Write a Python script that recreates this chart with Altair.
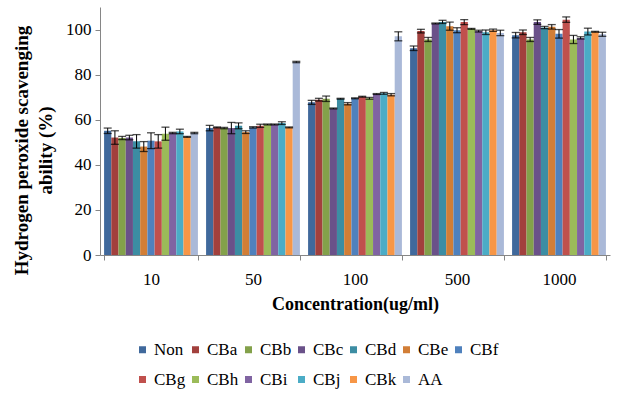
import altair as alt
import pandas as pd

series = ["Non", "CBa", "CBb", "CBc", "CBd", "CBe", "CBf",
          "CBg", "CBh", "CBi", "CBj", "CBk", "AA"]
colors = ["#40699C", "#A2403D", "#83A14A", "#6A5189", "#3C8DA3", "#D27E36", "#4F81BD",
          "#C0504D", "#9BBB59", "#8064A2", "#4BACC6", "#F79646", "#AAB9D8"]
concentrations = ["10", "50", "100", "500", "1000"]

values_10 = [55.1, 52.1, 51.9, 52.1, 50.4, 48.1, 50.7, 50.4, 53.8, 54.1, 54.8, 52.4, 54.1]
values_50 = [56.3, 56.6, 56.3, 56.3, 57.3, 54.5, 56.6, 57.3, 57.9, 57.9, 58.5, 56.6, 85.6]
values_100 = [67.7, 68.9, 69.3, 65.0, 69.3, 67.1, 69.5, 70.2, 69.5, 71.4, 71.7, 71.1, 97.0]
values_500 = [91.7, 99.3, 95.6, 102.7, 103.4, 101.5, 99.7, 103.3, 100.3, 99.3, 98.8, 99.7, 98.5]
values_1000 = [97.5, 98.8, 95.6, 103.3, 100.9, 101.2, 98.1, 104.4, 95.6, 96.3, 99.1, 99.0, 97.9]

err_10 = [1.2, 3.0, 0.7, 1.0, 3.0, 2.2, 3.5, 3.0, 2.9, 0.3, 1.0, 0.2, 0.3]
err_50 = [1.2, 0.2, 0.3, 2.5, 1.3, 0.6, 0.3, 0.7, 0.2, 0.2, 0.6, 0.2, 0.3]
err_100 = [0.9, 0.6, 1.2, 0.2, 0.2, 0.5, 0.2, 0.2, 0.4, 0.2, 0.4, 0.5, 2.0]
err_500 = [1.0, 0.8, 0.9, 0.2, 0.7, 1.8, 1.1, 1.1, 0.2, 0.4, 1.0, 0.5, 1.2]
err_1000 = [1.2, 1.0, 0.9, 1.0, 0.5, 1.0, 1.9, 1.2, 1.8, 0.5, 1.5, 0.2, 0.9]

all_values = [values_10, values_50, values_100, values_500, values_1000]
all_errs = [err_10, err_50, err_100, err_500, err_1000]

rows = []
for c, vals, errs in zip(concentrations, all_values, all_errs):
    for s, v, e in zip(series, vals, errs):
        rows.append({"conc": c, "series": s, "value": v, "lo": v - e, "hi": v + e})
df = pd.DataFrame(rows)

FONT = "Times New Roman, Liberation Serif, serif"

x_enc = alt.X(
    "conc:N", sort=concentrations,
    scale=alt.Scale(paddingInner=0.08, paddingOuter=0.04),
    axis=alt.Axis(title="Concentration(ug/ml)", labelAngle=0, tickBand="extent",
                  tickSize=5, labelPadding=11, titlePadding=8, titleFontSize=18,
                  domainColor="#868686", tickColor="#868686"),
)
xoff = alt.XOffset("series:N", sort=series)

y_scale = alt.Scale(domain=[0, 110], nice=False)

bars = alt.Chart(df).mark_bar().encode(
    x=x_enc,
    xOffset=xoff,
    y=alt.Y("value:Q", scale=y_scale,
            axis=alt.Axis(title=["Hydrogen peroxide  scavenging", "ability  (%)"],
                          values=[0, 20, 40, 60, 80, 100], grid=False,
                          tickSize=5, labelPadding=4, titleFontSize=19,
                          domainColor="#868686", tickColor="#868686",
                          titleX=-88, titleY=143, titleAngle=-90, titleAlign="center",
                          titleBaseline="top", titleLineHeight=24)),
    color=alt.Color("series:N", sort=series,
                    scale=alt.Scale(domain=series, range=colors),
                    legend=alt.Legend(title=None, orient="none", legendX=34, legendY=334,
                                      direction="horizontal", columns=7)),
)

stems = alt.Chart(df).mark_rule(color="black", strokeWidth=1).encode(
    x=alt.X("conc:N", sort=concentrations),
    xOffset=xoff,
    y=alt.Y("lo:Q", scale=y_scale),
    y2="hi:Q",
)

caps_lo = alt.Chart(df).mark_tick(color="black", thickness=1.3, size=8).encode(
    x=alt.X("conc:N", sort=concentrations),
    xOffset=xoff,
    y=alt.Y("lo:Q", scale=y_scale),
)
caps_hi = alt.Chart(df).mark_tick(color="black", thickness=1.3, size=8).encode(
    x=alt.X("conc:N", sort=concentrations),
    xOffset=xoff,
    y=alt.Y("hi:Q", scale=y_scale),
)

chart = alt.layer(bars, stems, caps_lo, caps_hi).properties(
    width=510, height=248,
    autosize=alt.AutoSizeParams(type="none"),
    padding={"left": 100, "top": 7, "right": 14, "bottom": 139},
    background="white",
).configure_view(
    stroke=None
).configure_axis(
    labelFont=FONT, labelFontSize=17, labelColor="black",
    titleFont=FONT, titleFontWeight="bold", titleColor="black",
    grid=False,
).configure_legend(
    labelFont=FONT, labelFontSize=17, labelColor="black",
    symbolType="square", symbolSize=49, symbolStrokeWidth=0,
    labelOffset=3, columnPadding=1, rowPadding=12, padding=0,
    labelLimit=200,
)

chart.save("out.html", embed_options={"renderer": "svg", "actions": False})
